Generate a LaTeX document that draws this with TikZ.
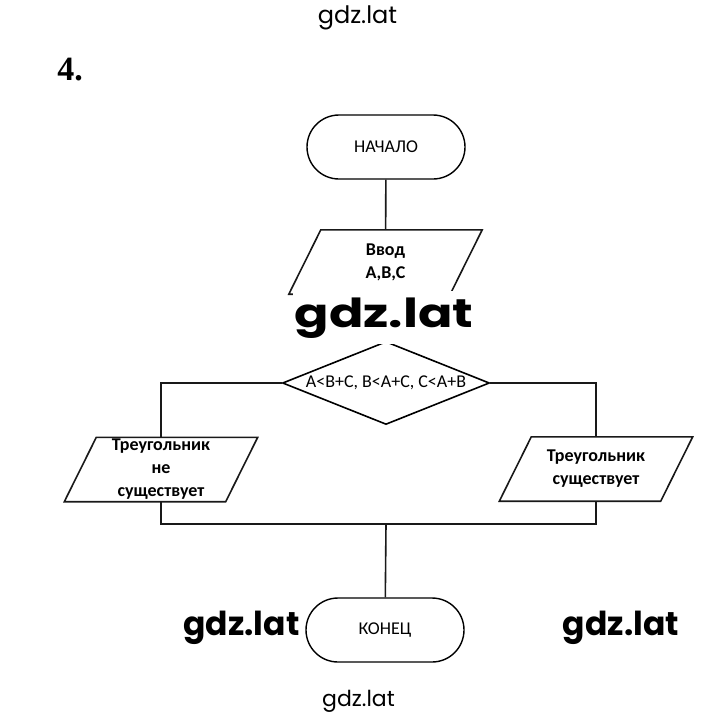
\documentclass[tikz,border=0pt]{standalone}
\usepackage{fontspec}
\setmainfont{Carlito}
\newfontfamily\wmfont{Poppins}
\newfontfamily\wmwide{Poppins}[FakeStretch=1.27]
\newfontfamily\numfont{Liberation Serif}
\usetikzlibrary{shapes.geometric,shapes.misc}
\tikzset{
  line/.style={line width=1.6pt, black!90},
  term/.style={rounded rectangle, draw, line width=1.4pt, minimum width=158pt, minimum height=64pt, inner sep=0pt, font=\fontsize{18}{20}\selectfont},
  iobox/.style={rectangle, minimum width=193pt, minimum height=64pt, inner sep=0pt, align=center, font=\fontsize{18}{23}\selectfont\bfseries},
  decide/.style={diamond, draw, line width=1.6pt, aspect=2.5, minimum width=207pt, minimum height=83pt, inner sep=0pt, font=\fontsize{18}{20}\selectfont},
  wmbig/.style={fill=white, inner xsep=2pt, inner ysep=6pt, anchor=base, font=\wmwide\fontsize{40}{40}\selectfont\bfseries},
  wmmid/.style={inner sep=0pt, anchor=base, font=\wmfont\fontsize{33}{33}\selectfont\bfseries},
  wmsmall/.style={inner sep=0pt, anchor=base},
}
\begin{document}
\begin{tikzpicture}[x=1pt,y=-1pt]
\useasboundingbox (0,0) rectangle (720,713);
\node[wmsmall, font=\wmfont\fontsize{24}{24}\selectfont] (wmtop) at (357.5,23) {gdz.lat};
\node[font=\numfont\fontsize{34}{34}\selectfont\bfseries, inner sep=0pt, anchor=base] (num) at (70,80) {4.};

\node[term] (start) at (386,147) {НАЧАЛО};
\node[iobox] (input) at (385.5,262) {Ввод\\A,B,C};
\node[decide] (cond) at (386,383) {A<B+C, B<A+C, C<A+B};
\node[iobox] (no) at (161,469.5) {Треугольник\\не\\существует};
\node[iobox] (yes) at (596,469) {Треугольник\\существует};
\node[term] (end) at (385,630) {КОНЕЦ};
\coordinate (join) at (386,524);

\foreach \n in {input,no,yes}
  \draw[line] ([xshift=32pt]\n.north west) -- (\n.north east)
    -- ([xshift=-32pt]\n.south east) -- (\n.south west) -- cycle;

\draw[line] (start) -- (input);
\draw[line] (input) -- (cond);
\draw[line] (cond.west) -| (no.north);
\draw[line] (cond.east) -| (yes.north);
\draw[line] (no.south) |- (join) -| (yes.south);
\draw[line] (join) -- (end);

\node[wmbig] (wmcenter) at (384,327) {gdz.lat};
\node[wmmid] (wmleft) at (241.5,635) {gdz.lat};
\node[wmmid] (wmright) at (621,635) {gdz.lat};
\node[wmsmall, font=\wmfont\fontsize{22}{22}\selectfont] (wmbottom) at (358.5,706) {gdz.lat};
\end{tikzpicture}
\end{document}
